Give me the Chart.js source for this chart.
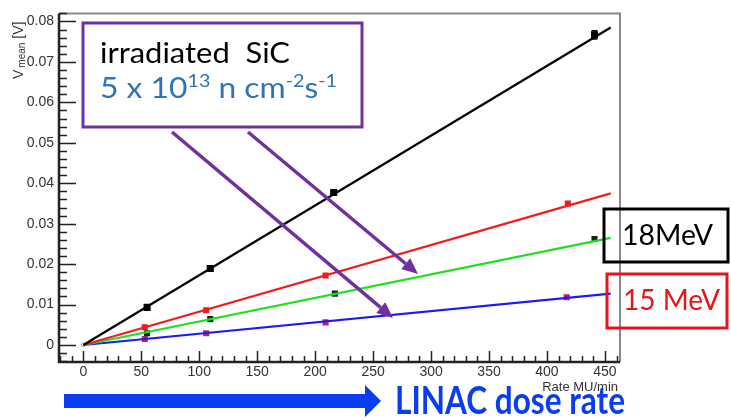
<!DOCTYPE html>
<html>
<head>
<meta charset="utf-8">
<script src="https://cdn.jsdelivr.net/npm/chart.js@4.4.0/dist/chart.umd.min.js"></script>
<style>
  body { margin: 0; background: #fff; }
  canvas { display: block; }
</style>
</head>
<body>
<canvas id="chart" width="731" height="420"></canvas>
<script>
// measured points, V mean [V] vs rate [MU/min]
const rateBlack = [55, 109.5, 216, 441];
const vBlack = [0.0093, 0.0189, 0.0377, 0.0767];
const errBlack = [0.0002, 0.0002, 0.0003, 0.001];

const rateRed = [53, 106, 209, 418];
const vRed = [0.0044, 0.0086, 0.0172, 0.035];

const rateGreen = [55, 109.5, 217, 441];
const vGreen = [0.0029, 0.0064, 0.0127, 0.0262];

const rateBlue = [53, 106, 209, 417];
const vBlue = [0.0015, 0.0029, 0.0056, 0.0118];

// linear fits, drawn between these two rates
const fitRates = [0, 455];
const fitBlack = [0, 0.0785];
const fitRed = [0, 0.0375];
const fitGreen = [0, 0.0265];
const fitBlue = [0, 0.0127];

const xTicks = [0, 50, 100, 150, 200, 250, 300, 350, 400, 450];
const yTicks = [0, 0.01, 0.02, 0.03, 0.04, 0.05, 0.06, 0.07, 0.08];

const toPts = (xs, ys) => xs.map((x, i) => ({ x: x, y: ys[i] }));

function fitLine(ys, color) {
  return {
    data: toPts(fitRates, ys),
    showLine: true,
    borderColor: color,
    borderWidth: 2.2,
    pointRadius: 0
  };
}

function markers(xs, ys, color, r) {
  return {
    data: toPts(xs, ys),
    pointStyle: 'rect',
    pointRadius: r,
    backgroundColor: color,
    borderColor: color,
    borderWidth: 0
  };
}

// ROOT-like frame with inward ticks
const framePlugin = {
  id: 'frame',
  beforeDatasetsDraw(chart) {
    const ctx = chart.ctx;
    const a = chart.chartArea;
    const xs = chart.scales.x, ys = chart.scales.y;
    ctx.save();
    ctx.strokeStyle = '#888';
    ctx.lineWidth = 2;
    ctx.beginPath();
    ctx.moveTo(a.left, a.top); ctx.lineTo(a.right, a.top); ctx.lineTo(a.right, a.bottom);
    ctx.stroke();

    ctx.strokeStyle = '#222';
    ctx.lineWidth = 1.5;
    ctx.beginPath();
    for (let v = -20; v <= 460; v += 10) {
      const px = Math.round(xs.getPixelForValue(v)) + 0.5;
      const len = v % 50 === 0 ? 11 : 6;
      ctx.moveTo(px, a.bottom); ctx.lineTo(px, a.bottom - len);
    }
    for (let i = -2; i <= 41; i++) {
      const v = i * 0.002;
      const py = Math.round(ys.getPixelForValue(v)) + 0.5;
      const len = i % 5 === 0 ? 17 : 8;
      ctx.moveTo(a.left, py); ctx.lineTo(a.left + len, py);
    }
    ctx.stroke();

    ctx.lineWidth = 2.5;
    ctx.beginPath();
    ctx.moveTo(a.left, a.top); ctx.lineTo(a.left, a.bottom); ctx.lineTo(a.right, a.bottom);
    ctx.stroke();

    // axis titles
    ctx.fillStyle = '#333';
    ctx.font = '13px "Liberation Sans", Arial, sans-serif';
    ctx.textAlign = 'right';
    ctx.textBaseline = 'alphabetic';
    ctx.fillText('Rate MU/min', 618, 391);

    ctx.translate(23, 79);
    ctx.rotate(-Math.PI / 2);
    ctx.textAlign = 'left';
    ctx.font = '14px "Liberation Sans", Arial, sans-serif';
    ctx.fillText('V', 0, 0);
    let w = ctx.measureText('V').width;
    ctx.font = '10px "Liberation Sans", Arial, sans-serif';
    ctx.fillText('mean', w + 2, 2);
    w += 2 + ctx.measureText('mean').width;
    ctx.font = '14px "Liberation Sans", Arial, sans-serif';
    ctx.fillText(' [V]', w, 0);
    ctx.restore();
  },
  afterDatasetsDraw(chart) {
    // error bars on the black series
    const ctx = chart.ctx;
    const xs = chart.scales.x, ys = chart.scales.y;
    ctx.save();
    ctx.strokeStyle = '#000';
    ctx.lineWidth = 1.5;
    rateBlack.forEach((r, i) => {
      const px = xs.getPixelForValue(r);
      const y1 = ys.getPixelForValue(vBlack[i] - errBlack[i]);
      const y2 = ys.getPixelForValue(vBlack[i] + errBlack[i]);
      ctx.beginPath();
      ctx.moveTo(px, y1); ctx.lineTo(px, y2);
      ctx.moveTo(px - 3, y1); ctx.lineTo(px + 3, y1);
      ctx.moveTo(px - 3, y2); ctx.lineTo(px + 3, y2);
      ctx.stroke();
    });
    ctx.restore();
  }
};

// text runs: [text, sizeFactor, baselineShift]
function drawRuns(ctx, runs, x, y, size, family, weight, color, width) {
  ctx.save();
  ctx.fillStyle = color;
  ctx.textAlign = 'left';
  ctx.textBaseline = 'alphabetic';
  let total = 0;
  runs.forEach(r => {
    ctx.font = weight + ' ' + Math.round(size * r[1]) + 'px ' + family;
    total += ctx.measureText(r[0]).width;
  });
  ctx.translate(x, y);
  if (width) ctx.scale(width / total, 1);
  let cx = 0;
  runs.forEach(r => {
    ctx.font = weight + ' ' + Math.round(size * r[1]) + 'px ' + family;
    ctx.fillText(r[0], cx, r[2] * size);
    cx += ctx.measureText(r[0]).width;
  });
  ctx.restore();
}

function arrow(ctx, x1, y1, x2, y2, color, lw, head, headW) {
  const ang = Math.atan2(y2 - y1, x2 - x1);
  const bx = x2 - head * Math.cos(ang), by = y2 - head * Math.sin(ang);
  ctx.save();
  ctx.strokeStyle = color;
  ctx.fillStyle = color;
  ctx.lineWidth = lw;
  ctx.beginPath();
  ctx.moveTo(x1, y1); ctx.lineTo(bx, by);
  ctx.stroke();
  ctx.beginPath();
  ctx.moveTo(x2, y2);
  ctx.lineTo(bx + headW * Math.sin(ang), by - headW * Math.cos(ang));
  ctx.lineTo(bx - headW * Math.sin(ang), by + headW * Math.cos(ang));
  ctx.closePath();
  ctx.fill();
  ctx.restore();
}

const SANS = 'Lato, "Open Sans", sans-serif';

const notesPlugin = {
  id: 'notes',
  afterDraw(chart) {
    const ctx = chart.ctx;
    ctx.save();
    // sample box
    ctx.fillStyle = '#fff';
    ctx.fillRect(83, 23, 279, 104);
    ctx.strokeStyle = '#7030a0';
    ctx.lineWidth = 3;
    ctx.strokeRect(83, 23, 279, 104);
    drawRuns(ctx, [['irradiated  SiC', 1, 0]], 100, 63, 29, SANS, 'normal', '#000', 190);
    drawRuns(ctx, [['5 x 10', 1, 0], ['13', 0.62, -0.38], [' n cm', 1, 0], ['-2', 0.62, -0.38],
      ['s', 1, 0], ['-1', 0.62, -0.38]], 100, 98, 29, SANS, 'normal', '#2e75b6', 237);

    arrow(ctx, 172, 132, 393, 318, '#7030a0', 3.5, 16, 7);
    arrow(ctx, 248, 132, 418, 274, '#7030a0', 3.5, 16, 7);

    // energy labels
    ctx.lineWidth = 3;
    ctx.strokeStyle = '#000';
    ctx.strokeRect(604, 209, 124, 53);
    drawRuns(ctx, [['18MeV', 1, 0]], 622, 245, 28, SANS, 'normal', '#000', 91);
    ctx.strokeStyle = '#e8141c';
    ctx.strokeRect(607, 274, 120, 54);
    drawRuns(ctx, [['15 MeV', 1, 0]], 623, 310, 28, SANS, 'normal', '#e8141c', 97);

    // dose rate arrow
    ctx.fillStyle = '#0a3cf0';
    ctx.beginPath();
    ctx.moveTo(64, 394); ctx.lineTo(365, 394); ctx.lineTo(365, 385); ctx.lineTo(381, 401);
    ctx.lineTo(365, 417); ctx.lineTo(365, 408); ctx.lineTo(64, 408);
    ctx.closePath();
    ctx.fill();
    drawRuns(ctx, [['LINAC dose rate', 1, 0]], 395, 414, 38, SANS, 'bold', '#0a3cf0', 230);
    ctx.restore();
  }
};

new Chart(document.getElementById('chart'), {
  type: 'scatter',
  data: {
    datasets: [
      fitLine(fitBlack, '#000'),
      fitLine(fitRed, '#f21c1c'),
      fitLine(fitGreen, '#1fe01f'),
      fitLine(fitBlue, '#1a1aff'),
      markers(rateBlack, vBlack, '#000', 5),
      markers(rateRed, vRed, '#f01818', 4.3),
      markers(rateGreen, vGreen, '#0d2a0d', 4.3),
      markers(rateBlue, vBlue, '#c41c64', 4.3),
      {
        data: [{ x: 0, y: 0 }],
        pointStyle: 'circle',
        pointRadius: 2,
        backgroundColor: '#fff',
        borderColor: '#aaa',
        borderWidth: 1
      }
    ]
  },
  options: {
    responsive: false,
    animation: false,
    layout: { padding: { top: 11, right: 111, left: 0, bottom: 0 } },
    plugins: { legend: { display: false }, tooltip: { enabled: false } },
    scales: {
      x: {
        type: 'linear',
        min: -21,
        max: 463,
        afterBuildTicks: s => { s.ticks = xTicks.map(v => ({ value: v })); },
        afterFit: s => { s.height = 58; },
        grid: { display: false, drawTicks: false },
        border: { display: false },
        ticks: {
          autoSkip: false,
          maxRotation: 0,
          padding: 2,
          color: '#333',
          font: { family: '"Liberation Sans", Arial, sans-serif', size: 14 }
        }
      },
      y: {
        min: -0.0042,
        max: 0.082,
        afterBuildTicks: s => { s.ticks = yTicks.map(v => ({ value: v })); },
        afterFit: s => { s.width = 59; },
        grid: { display: false, drawTicks: false },
        border: { display: false },
        ticks: {
          autoSkip: false,
          padding: 5,
          color: '#333',
          font: { family: '"Liberation Sans", Arial, sans-serif', size: 14 },
          callback: v => String(Math.round(v * 100) / 100)
        }
      }
    }
  },
  plugins: [framePlugin, notesPlugin]
});
</script>
</body>
</html>
